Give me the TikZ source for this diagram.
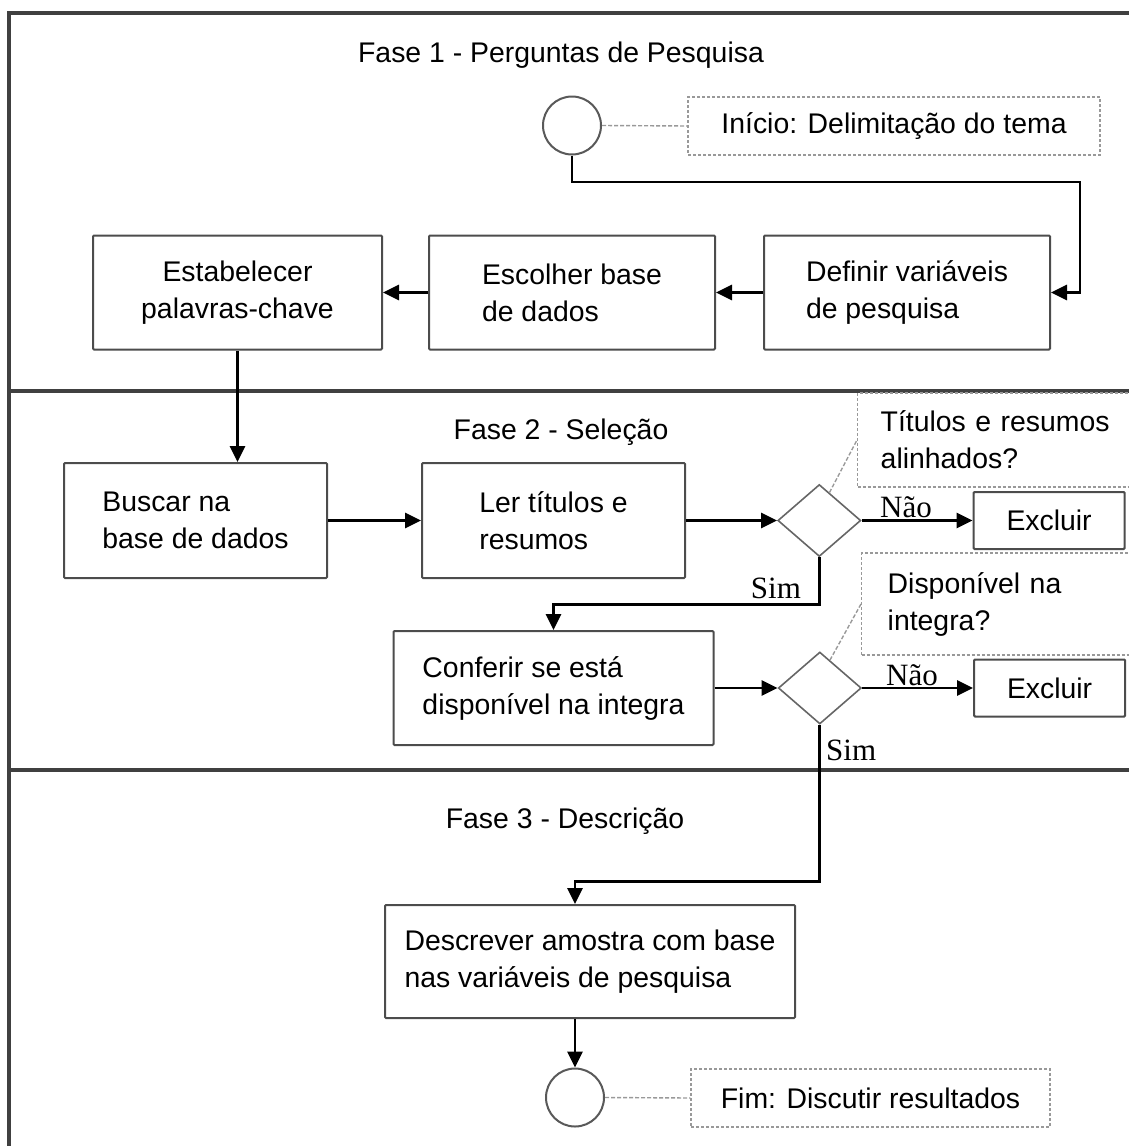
\documentclass[tikz,border=0pt]{standalone}
\usepackage{fontspec}
\setmainfont{Liberation Sans}
\newfontfamily\serifa{Liberation Serif}
\usetikzlibrary{
  arrows.meta, % for the Triangle arrow tip
  positioning, % for relative positioning of the steps
  shapes.geometric % for the decision diamonds
}
\tikzset{
  bloco/.style={ % style for each step of the process
    rectangle,draw=black!70,line width=1pt, % drawn as a grey rectangle
    rounded corners=0.5pt,
    align=left, % lines start at the same x
    inner sep=0pt,
    minimum height=57pt,
  },
  decisao/.style={ % style for the decisions
    diamond,draw=black!60,line width=0.8pt,
    inner sep=0pt,
    minimum width=41.5pt,minimum height=36pt,
  },
  terminal/.style={ % start and end of the process
    circle,draw=black!65,line width=1pt,
    inner sep=0pt,
    minimum size=29pt,
  },
  nota/.style={ % dotted boxes with the comments
    rectangle,draw=black!40,dash pattern=on 1.5pt off 1pt,line width=0.7pt,
    inner sep=0pt,
  },
  rotulo/.style={ % Sim / Nao on the connections
    font=\serifa\fontsize{15.5pt}{17pt}\selectfont,
    inner sep=0.5pt,
  },
  conn/.style={ % style for the connections
    -{Triangle[length=8pt,width=7.5pt]},
    line width=1.4pt,
  },
  ligacao/.style={ % link between a shape and its comment
    draw=black!40,dash pattern=on 2pt off 1pt,line width=0.7pt,
  },
  divisao/.style={ % frame and phase separators
    line width=1.6pt,draw=black!75,
  },
}
\begin{document}
\begin{tikzpicture}[x=0.5pt,y=-0.5pt,font=\fontsize{14.2pt}{18.5pt}\selectfont]
\path[use as bounding box,clip] (0,0) rectangle (1129,1146);
% frame and phases
\draw[divisao] (9,1160) |- (1140,13);
\draw[divisao] (9,391) -- (1140,391);
\draw[divisao] (9,770) -- (1140,770);
\node (fase1) at (561,55) {Fase 1 - Perguntas de Pesquisa};
\node (fase2) at (561,432) {Fase 2 - Seleção};
\node (fase3) at (565,821) {Fase 3 - Descrição};
% phase 1
\node[terminal] (inicio) at (572,125.5) {};
\node[nota, minimum width=206pt, minimum height=29pt] (notaini) at (894,126) {Início: Delimitação do tema};
\node[bloco, minimum width=143pt] (definir) at (907,292.5) {Definir variáveis\\de pesquisa};
\node[bloco, minimum width=143pt, left=23.5pt of definir] (escolher) {Escolher base\\de dados};
\node[bloco, minimum width=144.5pt, align=center, left=22.5pt of escolher] (estabelecer) {Estabelecer\\palavras-chave};
\coordinate (c1) at (1080,182);
% phase 2
\node[bloco, minimum width=131.5pt, minimum height=57.5pt] (buscar) at (195.5,520.5) {Buscar na\\base de dados};
\node[bloco, minimum width=131.5pt, minimum height=57.5pt, right=46.5pt of buscar] (ler) {Ler títulos e\\resumos};
\node[decisao, right=45.5pt of ler] (dec1) {};
\node[bloco, minimum width=75.5pt, minimum height=28.5pt, align=center, right=55.5pt of dec1] (excluir1) {Excluir};
\node[nota, anchor=west, minimum height=47pt, inner xsep=11.5pt, text width=118.5pt] (nota1) at (857,440) {Títulos e resumos\\alinhados?};
\node[bloco, minimum width=160pt, below=25.5pt of ler] (conferir) {Conferir se está\\disponível na integra};
\node[decisao, right=31.5pt of conferir] (dec2) {};
\node[bloco, minimum width=75.5pt, minimum height=28.5pt, align=center, right=55.5pt of dec2] (excluir2) {Excluir};
\node[nota, anchor=west, minimum height=51pt, inner xsep=13pt, text width=120pt] (nota2) at (861,604) {Disponível na\\integra?};
% phase 3
\node[bloco, minimum width=205pt, minimum height=56.5pt] (descrever) at (590,961.5) {Descrever amostra com base\\nas variáveis de pesquisa};
\node[terminal] (fim) at (575,1097.5) {};
\node[nota, minimum width=179.5pt, minimum height=29pt] (notafim) at (870.5,1098) {Fim: Discutir resultados};
% connections
\draw[ligacao] (inicio.east) -- (notaini.west);
\draw[conn] (inicio.south) |- (c1) |- (definir.east);
\draw[conn] (definir) -- (escolher);
\draw[conn] (escolher) -- (estabelecer);
\draw[conn] (estabelecer.south) -- (estabelecer.south |- buscar.north);
\draw[conn] (buscar) -- (ler);
\draw[conn] (ler) -- (dec1);
\draw[conn] (dec1) -- node[rotulo, pos=0.4, above]{Não} (excluir1);
\draw[ligacao] (dec1.70) -- (nota1.west);
\draw[conn] (dec1.south) -- ++(0,47) node[rotulo, pos=0.66, left=8pt]{Sim} -| (conferir.north);
\draw[conn] (conferir) -- (dec2);
\draw[conn] (dec2) -- node[rotulo, pos=0.45, above]{Não} (excluir2);
\draw[ligacao] (dec2.70) -- (nota2.west);
\draw[conn] (dec2.south) -- ++(0,157) node[rotulo, pos=0.16, right=2pt]{Sim} -| (fim |- descrever.north);
\draw[conn] (fim |- descrever.south) -- (fim.north);
\draw[ligacao] (fim.east) -- (notafim.west);
\end{tikzpicture}
\end{document}
